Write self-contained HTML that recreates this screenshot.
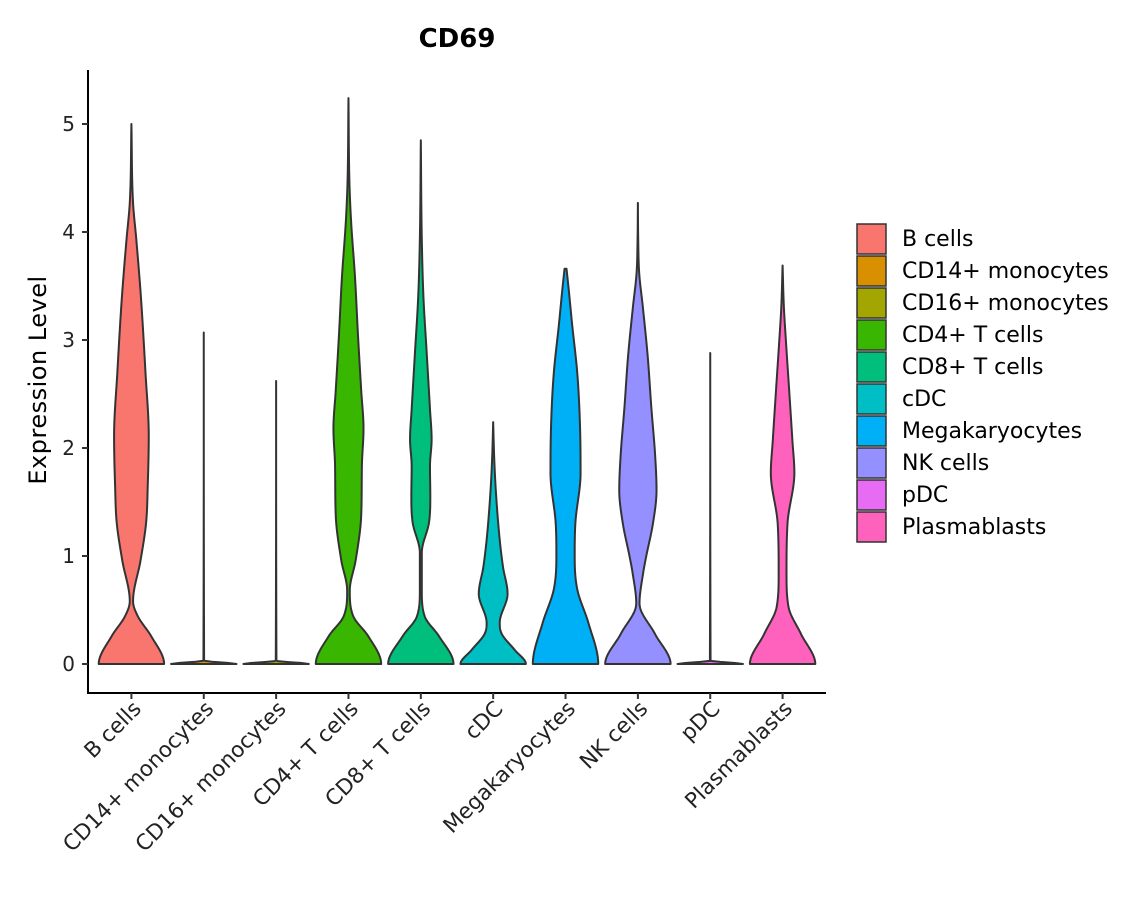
<!DOCTYPE html>
<html><head><meta charset="utf-8"><style>
html,body{margin:0;padding:0;background:#fff;}
svg{display:block;font-family:"DejaVu Sans","Liberation Sans",sans-serif;}
</style></head><body>
<svg id="chart" width="1140" height="900" viewBox="0 0 1140 900">
<text x="457" y="47" text-anchor="middle" font-size="26" font-weight="bold" fill="#000">CD69</text>
<text transform="translate(46,380) rotate(-90)" text-anchor="middle" font-size="24" fill="#000" letter-spacing="0.5">Expression Level</text>
<g id="violins"></g>
<g id="axes"></g>
<g id="legend"></g>
</svg>
<script>
const categories = ["B cells","CD14+ monocytes","CD16+ monocytes","CD4+ T cells","CD8+ T cells","cDC","Megakaryocytes","NK cells","pDC","Plasmablasts"];
const colors = ["#F8766D","#D89000","#A3A500","#39B600","#00BF7D","#00BFC4","#00B0F6","#9590FF","#E76BF3","#FF62BC"];
const yTicks = [0,1,2,3,4,5];
// expression levels (y) and relative density widths (0..1)
const levelsB = [0,0.26,0.44,0.58,0.96,1.31,1.66,2.11,2.7,3.4,3.93,4.27,5.0];
const widthsB = [1,0.6,0.2,0.05,0.28,0.45,0.5,0.53,0.43,0.29,0.15,0.05,0];
const levelsCD14 = [0,0.03,3.07];
const widthsCD14 = [1,0.01,0];
const levelsCD16 = [0,0.03,2.62];
const widthsCD16 = [1,0.01,0];
const levelsCD4 = [0,0.26,0.44,0.68,0.96,1.38,1.83,2.18,2.53,3.05,3.58,4.1,4.45,5.24];
const widthsCD4 = [1,0.6,0.15,0.04,0.22,0.39,0.41,0.46,0.39,0.29,0.2,0.08,0.03,0];
const levelsCD8 = [0,0.26,0.44,0.68,1.03,1.31,1.55,1.83,2.08,2.36,2.88,3.4,3.93,4.85];
const widthsCD8 = [1,0.55,0.12,0.03,0.03,0.25,0.29,0.28,0.33,0.28,0.18,0.08,0.03,0];
const levelsCDC = [0,0.13,0.28,0.38,0.65,0.9,1.15,1.61,1.92,2.24];
const widthsCDC = [1,0.66,0.26,0.2,0.44,0.3,0.2,0.08,0.03,0];
const levelsMega = [0,0.38,0.69,0.99,1.3,1.77,2.23,2.69,3.15,3.46,3.66];
const widthsMega = [1,0.7,0.36,0.28,0.3,0.46,0.44,0.36,0.2,0.1,0.03];
const levelsNK = [0,0.28,0.56,0.84,0.99,1.3,1.61,1.92,2.38,2.85,3.31,3.62,3.93,4.27];
const widthsNK = [1,0.52,0.05,0.16,0.25,0.46,0.57,0.53,0.41,0.3,0.15,0.04,0.01,0];
const levelsPDC = [0,0.03,2.88];
const widthsPDC = [1,0.01,0];
const levelsPlasma = [0,0.28,0.53,0.84,1.3,1.77,2.07,2.54,3.0,3.3,3.69];
const widthsPlasma = [1,0.56,0.18,0.12,0.15,0.36,0.3,0.2,0.1,0.04,0];

const allLevels = [levelsB,levelsCD14,levelsCD16,levelsCD4,levelsCD8,levelsCDC,levelsMega,levelsNK,levelsPDC,levelsPlasma];
const allWidths = [widthsB,widthsCD14,widthsCD16,widthsCD4,widthsCD8,widthsCDC,widthsMega,widthsNK,widthsPDC,widthsPlasma];

const NS = "http://www.w3.org/2000/svg";
const X0 = 88, X1 = 826, Y0 = 664, YPX = 108, AXIS_Y = 693, AXIS_TOP = 70, HALF = 32.7;
const step = (X1 - X0) / (categories.length + 0.2);
function xScale(i){ return X0 + (i + 0.6) * step; }
function yScale(v){ return Y0 - v * YPX; }

function mk(tag, attrs, parent){ const e = document.createElementNS(NS, tag); for (const k in attrs) e.setAttribute(k, attrs[k]); parent.appendChild(e); return e; }

// monotone cubic (Fritsch-Carlson) interpolation - no overshoot
function monotone(xs, ys){
  const n = xs.length, d = [], m = new Array(n);
  for (let i = 0; i < n - 1; i++) d.push((ys[i+1]-ys[i])/(xs[i+1]-xs[i]));
  m[0] = 0; m[n-1] = d[n-2];
  for (let i = 1; i < n - 1; i++) m[i] = (d[i-1]*d[i] <= 0) ? 0 : (d[i-1]+d[i])/2;
  for (let i = 0; i < n - 1; i++){
    if (d[i] === 0){ m[i] = 0; m[i+1] = 0; continue; }
    const a = m[i]/d[i], b = m[i+1]/d[i], s = a*a + b*b;
    if (s > 9){ const t = 3/Math.sqrt(s); m[i] = t*a*d[i]; m[i+1] = t*b*d[i]; }
  }
  return function(x){
    let i = 0; while (i < n - 2 && x > xs[i+1]) i++;
    const h = xs[i+1]-xs[i], t = (x - xs[i])/h, t2 = t*t, t3 = t2*t;
    return (2*t3-3*t2+1)*ys[i] + (t3-2*t2+t)*h*m[i] + (-2*t3+3*t2)*ys[i+1] + (t3-t2)*h*m[i+1];
  };
}

const gV = document.getElementById("violins");
categories.forEach((c, i) => {
  const cx = xScale(i), lv = allLevels[i], wd = allWidths[i];
  const f = monotone(lv, wd);
  const top = lv[lv.length-1], N = 300;
  const right = [], left = [];
  for (let k = 0; k <= N; k++){
    const v = top * k / N;
    const w = Math.max(0, f(v));
    right.push((cx + w*HALF).toFixed(2) + "," + yScale(v).toFixed(2));
    left.push((cx - w*HALF).toFixed(2) + "," + yScale(v).toFixed(2));
  }
  const d = "M" + right.join("L") + "L" + left.reverse().join("L") + "Z";
  const p = mk("path", {d: d, fill: colors[i], stroke: "#333", "stroke-width": 2, "stroke-linejoin": "round"}, gV);
  
  
});

const gA = document.getElementById("axes");
const yl = mk("line", {x1: X0, y1: AXIS_TOP, x2: X0, y2: AXIS_Y + 1, stroke: "#000", "stroke-width": 2}, gA);


const xl = mk("line", {x1: X0 - 1, y1: AXIS_Y, x2: X1, y2: AXIS_Y, stroke: "#000", "stroke-width": 2}, gA);


yTicks.forEach(t => {
  const y = yScale(t);
  const tk = mk("line", {x1: X0 - 6, y1: y, x2: X0, y2: y, stroke: "#333", "stroke-width": 2}, gA);
  
  
  const tx = mk("text", {x: X0 - 13, y: y + 7, "text-anchor": "end", "font-size": 20, fill: "#222"}, gA);
  tx.textContent = t;
  
  
});
categories.forEach((c, i) => {
  const x = xScale(i);
  const tk = mk("line", {x1: x, y1: AXIS_Y, x2: x, y2: AXIS_Y + 6, stroke: "#333", "stroke-width": 2}, gA);
  
  
  const tx = mk("text", {transform: "translate(" + (x + 11) + "," + (AXIS_Y + 17) + ") rotate(-45)", "text-anchor": "end", "font-size": 21.5, fill: "#222"}, gA);
  tx.textContent = c;
  
  
});

const gL = document.getElementById("legend");
categories.forEach((c, i) => {
  const y = 224 + i * 32;
  const r = mk("rect", {x: 857, y: y, width: 29, height: 30, fill: colors[i], stroke: "#333", "stroke-width": 1.5}, gL);
  
  
  const t = mk("text", {x: 902, y: y + 22, "font-size": 22, fill: "#000"}, gL);
  t.textContent = c;
  
  
});
</script>
</body></html>
